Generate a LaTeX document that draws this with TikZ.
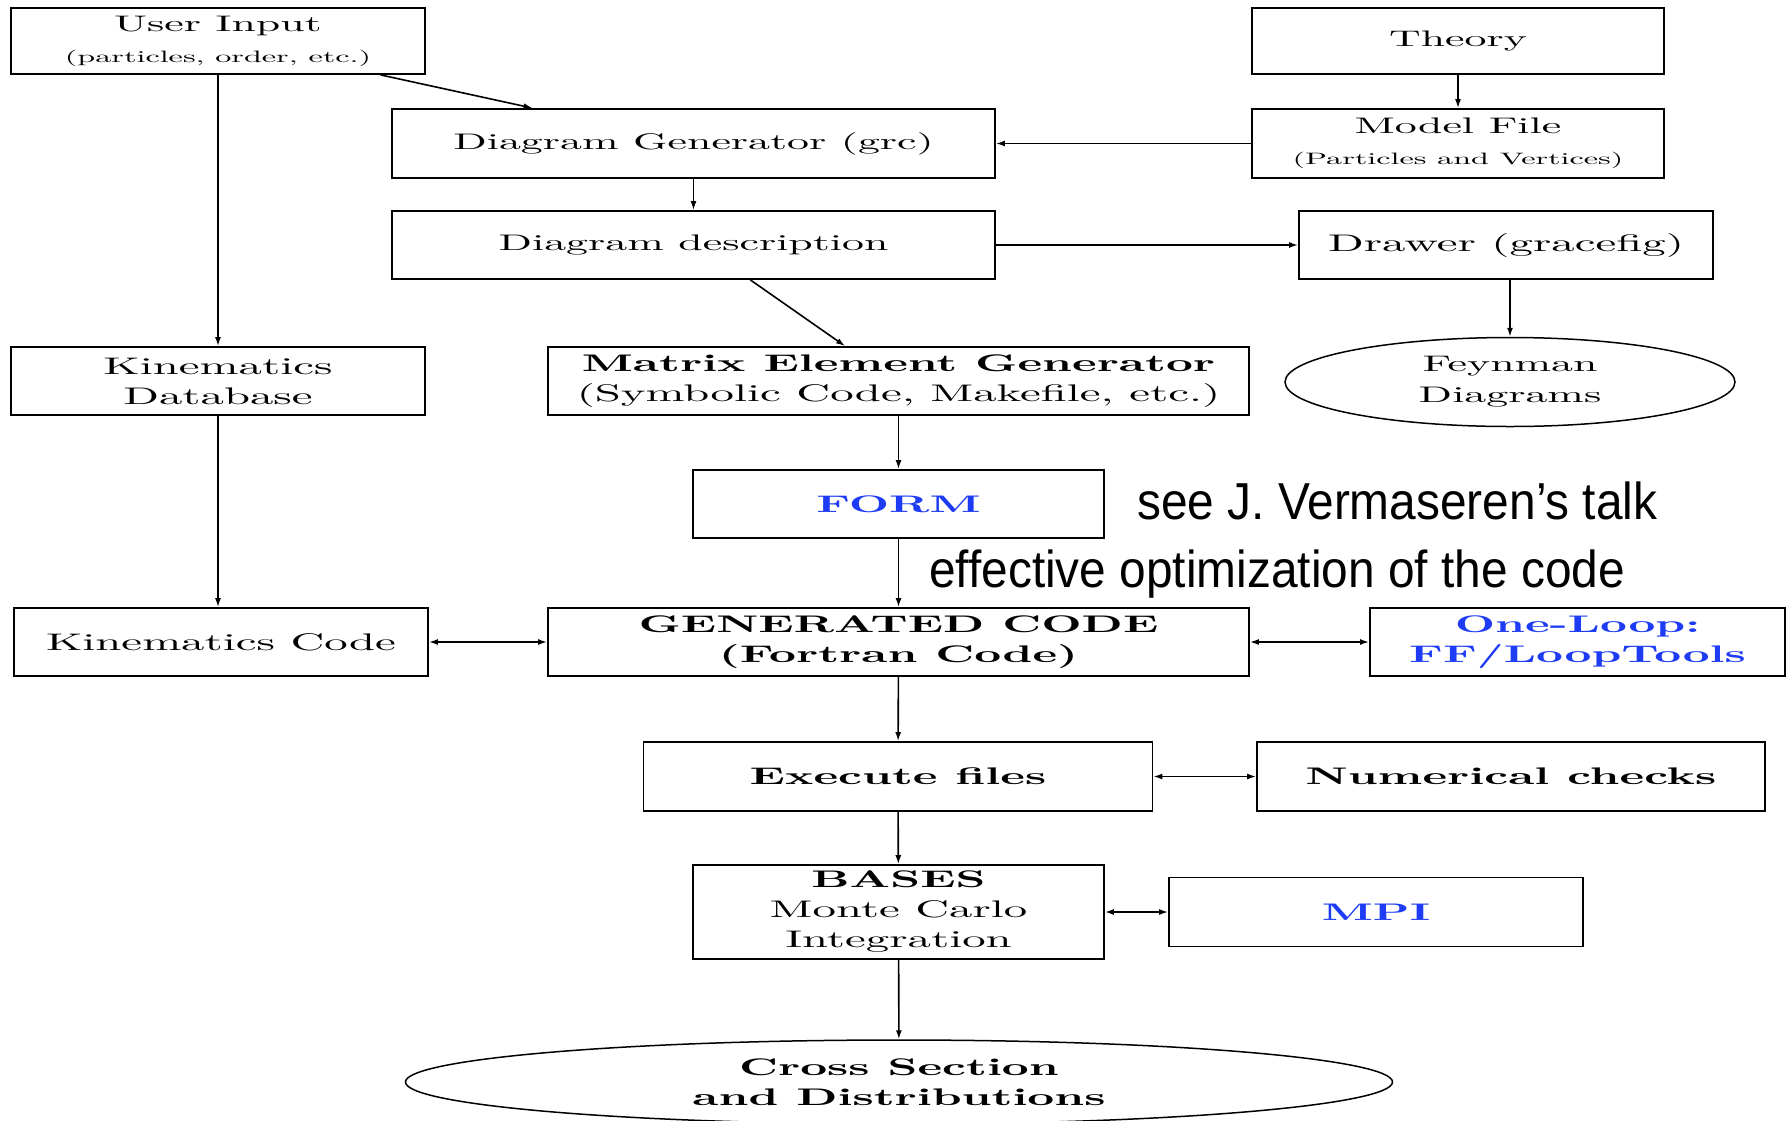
\documentclass[tikz,border=0pt]{standalone}
\usepackage{fontspec}
\setmainfont{lmroman10-regular.otf}[BoldFont=lmroman10-bold.otf, FakeStretch=1.95]
\newfontfamily\annotfam{Liberation Sans}[FakeStretch=0.92]
\usetikzlibrary{shapes.geometric,arrows.meta,calc}
\definecolor{linkblue}{RGB}{30,60,245}
\newcommand\myfA{\fontsize{24}{30}\selectfont}
\newcommand\myfB{\fontsize{24}{30}\selectfont\bfseries}
\newcommand\myfC{\fontsize{22.5}{31}\selectfont}
\newcommand\myfS{\fontsize{16.5}{31}\selectfont}
\newcommand\myfN{\annotfam\fontsize{52}{60}\selectfont}
\begin{document}
\begin{tikzpicture}[x=1pt,y=-1pt,
  box/.style={draw, line width=1.8pt, inner sep=0pt, align=center, minimum height=68pt},
  oval/.style={draw, ellipse, line width=1.5pt, inner sep=0pt, align=center},
  arr/.style={line width=1.6pt, -{Latex[length=9pt,width=6pt]}},
  darr/.style={line width=1.6pt, {Latex[length=9pt,width=6pt]}-{Latex[length=9pt,width=6pt]}},
  note/.style={anchor=base west, inner sep=0pt, font=\myfN}]
\useasboundingbox[fill=white] (0,0) rectangle (1788,1120);

\node[box, minimum width=414pt, minimum height=66pt, font=\myfC] (ui) at (218,41) {User Input\\\myfS (particles, order, etc.)};
\node[box, minimum width=412pt, minimum height=66pt, font=\myfC] (theory) at (1458,41) {Theory};
\node[box, minimum width=412pt, minimum height=69pt, font=\myfC] (model) at (1458,143.5) {Model File\\\myfS (Particles and Vertices)};
\node[box, minimum width=603pt, minimum height=69pt, font=\myfC] (dg) at (693.5,143.5) {Diagram Generator (grc)};
\node[box, minimum width=603pt, font=\myfC] (dd) at (693.5,245) {Diagram description};
\node[box, minimum width=414pt, font=\myfA] (drawer) at (1506,245) {Drawer (gracefig)};
\node[box, minimum width=414pt, font=\myfA] (kdb) at (218,381) {Kinematics\\Database};
\node[box, minimum width=701pt, font=\myfA] (meg) at (898.5,381) {\bfseries Matrix Element Generator\\(Symbolic Code, Makefile, etc.)};
\node[oval, minimum width=450pt, minimum height=89pt, font=\myfC] (feyn) at (1510,382) {Feynman\\Diagrams};
\node[box, minimum width=411pt, font=\myfB, text=linkblue] (form) at (898.5,504) {FORM};
\node[box, minimum width=414pt, font=\myfA] (kc) at (221,642) {Kinematics Code};
\node[box, minimum width=701pt, font=\myfB] (gc) at (898.5,642) {GENERATED CODE\\(Fortran Code)};
\node[box, minimum width=415pt, font=\myfB, text=linkblue] (ol) at (1577.5,642) {One-Loop:\\FF/LoopTools};
\node[box, minimum width=509pt, minimum height=69pt, font=\myfB] (ex) at (898,776.5) {Execute files};
\node[box, minimum width=508pt, minimum height=69pt, font=\myfB] (nc) at (1511,776.5) {Numerical checks};
\node[box, minimum width=411pt, minimum height=94pt, font=\myfA] (bases) at (898.5,912) {\bfseries BASES\\Monte Carlo\\Integration};
\node[box, minimum width=414pt, minimum height=69pt, font=\myfB, text=linkblue] (mpi) at (1376,912) {MPI};
\node[oval, minimum width=987pt, minimum height=84pt, font=\myfB] (cs) at (899,1082) {Cross Section\\and Distributions};

\node[note] (t1) at (1137,519) {see J. Vermaseren’s talk};
\node[note] (t2) at (929,587) {effective optimization of the code};

\draw[arr] ($(ui.south west)!0.891!(ui.south east)$) -- ($(dg.north west)!0.234!(dg.north east)$);
\draw[arr] (ui) -- (kdb);
\draw[arr] (theory) -- (model);
\draw[arr] (model) -- (dg);
\draw[arr] (dg) -- (dd);
\draw[arr] (dd) -- (drawer);
\draw[arr] ($(dd.south west)!0.594!(dd.south east)$) -- ($(meg.north west)!0.424!(meg.north east)$);
\draw[arr] (drawer.south -| feyn.north) -- (feyn.north);
\draw[arr] (kdb.south) -- (kdb.south |- kc.north);
\draw[arr] (meg) -- (form);
\draw[arr] (form) -- (gc);
\draw[darr] (kc) -- (gc);
\draw[darr] (gc) -- (ol);
\draw[arr] (gc) -- (ex);
\draw[darr] (ex) -- (nc);
\draw[arr] (ex) -- (bases);
\draw[darr] (bases) -- (mpi);
\draw[arr] (bases) -- (cs);
\end{tikzpicture}
\end{document}
